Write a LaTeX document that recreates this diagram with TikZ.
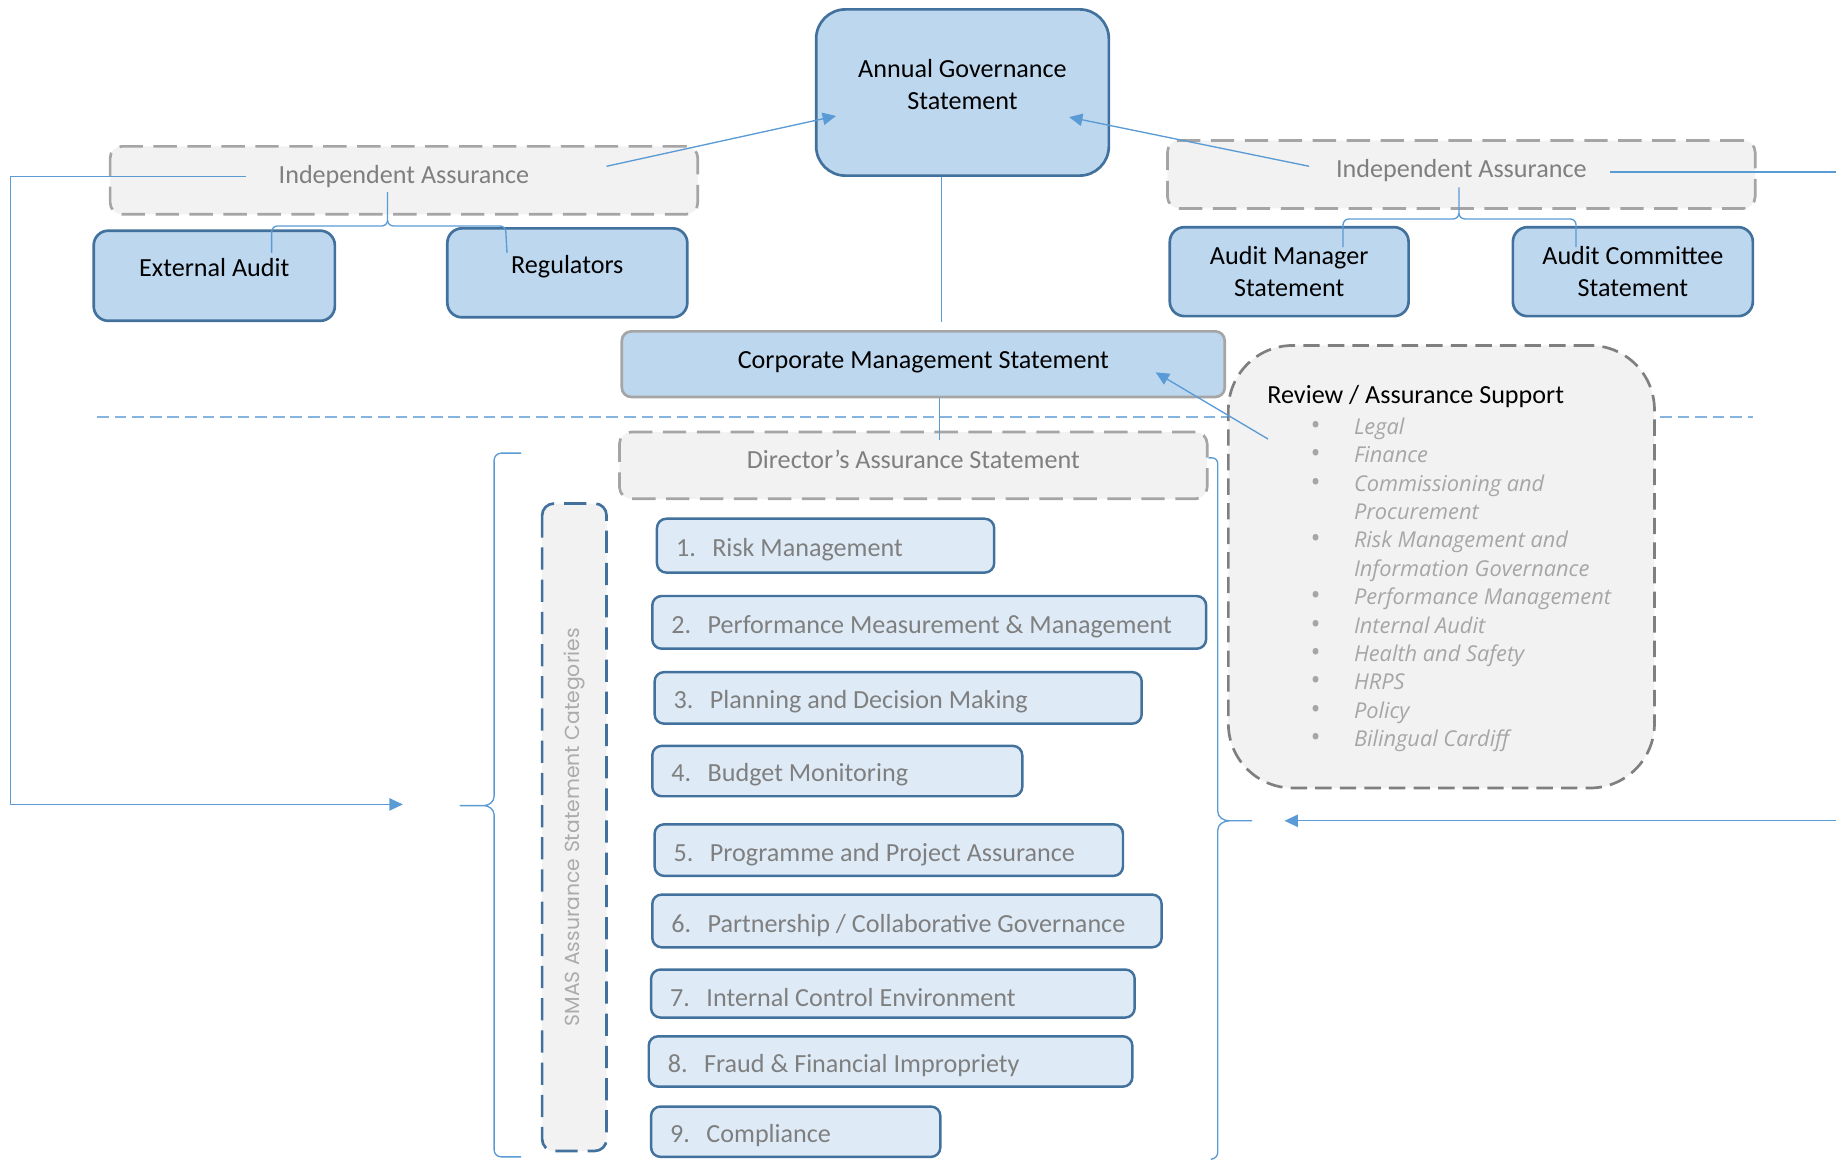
\documentclass[tikz,border=0pt]{standalone}
\usepackage{fontspec}
\setmainfont{Carlito}
\newfontfamily\smasfont{Poppins}
\newfontfamily\listfont{Open Sans}
\usetikzlibrary{arrows.meta,positioning}
\definecolor{boxblue}{HTML}{BDD7EE}
\definecolor{itemblue}{HTML}{DEEBF7}
\definecolor{edgeblue}{HTML}{41719C}
\definecolor{linkblue}{HTML}{5B9BD5}
\definecolor{palegrey}{HTML}{F2F2F2}
\definecolor{midgrey}{HTML}{A5A5A5}
\definecolor{textgrey}{HTML}{7F7F7F}
\definecolor{softgrey}{HTML}{A6A6A6}
\tikzset{
  mainbox/.style={draw=edgeblue, fill=boxblue, line width=1.3pt, rounded corners=0.25cm, inner sep=0pt, align=center},
  greybox/.style={draw=midgrey, fill=palegrey, line width=1.3pt, dash pattern=on 0.4cm off 0.18cm, rounded corners=0.2cm, inner sep=0pt, text=textgrey},
  itembox/.style={draw=edgeblue, fill=itemblue, line width=1.2pt, rounded corners=0.16cm, inner sep=0pt, anchor=west},
  itemtext/.style={inner sep=0pt, text=textgrey},
  link/.style={draw=linkblue, line width=0.65pt},
}
\newcommand\listdot{{\upshape\fontsize{13}{13}\selectfont\textbullet}}
\begin{document}
\begin{tikzpicture}[x=0.02cm, y=-0.02cm, font=\fontsize{12.7}{15.6}\selectfont, line join=round, >={Triangle[length=6.5pt,width=6pt]}]
\clip (0,0) rectangle (1568,991);
% level line
\draw[linkblue!75, line width=0.65pt, dash pattern=on 0.2cm off 0.1cm] (83,356) -- (1497,356);
% statements
\node[mainbox, rounded corners=0.5cm, minimum width=5cm, minimum height=2.84cm, text depth=8pt] (ags) at (822,79) {Annual Governance\\Statement};
\node[greybox, minimum width=10.04cm, minimum height=1.16cm, text depth=6pt] (ial) at (345,154) {Independent Assurance};
\node[greybox, minimum width=10.04cm, minimum height=1.16cm, text depth=6pt] (iar) at (1248,149) {Independent Assurance};
\node[mainbox, minimum width=4.12cm, minimum height=1.54cm, text depth=8pt] (ea) at (183,235.5) {External Audit};
\node[mainbox, minimum width=4.1cm, minimum height=1.52cm, text depth=8pt] (reg) at (484.5,233) {Regulators};
\node[mainbox, minimum width=4.08cm, minimum height=1.52cm] (ams) at (1101,232) {Audit Manager\\Statement};
\node[mainbox, minimum width=4.1cm, minimum height=1.52cm] (acs) at (1394.5,232) {Audit Committee\\Statement};
\node[mainbox, draw=midgrey, rounded corners=0.16cm, minimum width=10.3cm, minimum height=1.12cm, text depth=4pt] (cms) at (788.5,311) {Corporate Management Statement};
\node[greybox, minimum width=10.04cm, minimum height=1.14cm, text depth=6pt] (das) at (780,397.5) {Director’s Assurance Statement};
% review / assurance support
\node[greybox, draw=textgrey, dash pattern=on 0.28cm off 0.14cm, rounded corners=1.1cm, minimum width=7.28cm, minimum height=7.56cm] (rev) at (1231,484) {};
\node[anchor=west, inner sep=0pt] (revtitle) at (1082,339) {Review / Assurance Support};
\node[anchor=base west, inner sep=0pt, text=softgrey, font=\listfont\itshape\fontsize{10.6}{13.8}\selectfont] (revlist) at (1119,371) {%
  \begin{tabular}[t]{@{}p{0.74cm}@{}l@{}}
  \listdot & Legal\\
  \listdot & Finance\\
  \listdot & Commissioning and\\
   & Procurement\\
  \listdot & Risk Management and\\
   & Information Governance\\
  \listdot & Performance Management\\
  \listdot & Internal Audit\\
  \listdot & Health and Safety\\
  \listdot & HRPS\\
  \listdot & Policy\\
  \listdot & Bilingual Cardiff
  \end{tabular}};
% categories
\node[greybox, draw=edgeblue, dash pattern=on 0.38cm off 0.17cm, rotate=90, minimum width=11.06cm, minimum height=1.1cm, text=black!33, font=\smasfont\fontsize{9.9}{11}\selectfont] (smas) at (490.5,706.5) {SMAS Assurance Statement Categories};
\foreach \n/\xa/\xb/\ya/\yb/\txt in {
  1/560/848/443/489/{Risk Management},
  2/556/1029/509/554/{Performance Measurement \& Management},
  3/558/974/574/618/{Planning and Decision Making},
  4/556/872/637/680/{Budget Monitoring},
  5/558/958/704/748/{Programme and Project Assurance},
  6/556/991/764/809/{Partnership / Collaborative Governance},
  7/555/968/828/869/{Internal Control Environment},
  8/553/966/885/928/{Fraud \& Financial Impropriety},
  9/555/802/945/988/{Compliance}}{
  \node[itembox, minimum width={(\xb-\xa)*0.02cm}, minimum height={(\yb-\ya)*0.02cm}] (c\n) at (\xa,{(\ya+\yb)/2}) {};
  \node[itemtext, anchor=west, right=0.34cm of c\n.west, yshift=-0.07cm] (t\n) {\makebox[0.62cm][l]{\n.}\txt};
}
% connector ends
\coordinate (ialL) at (210,151);
\coordinate (ialR) at (518,142);
\coordinate (ialB) at (331,164);
\coordinate (iarL) at (1118,142);
\coordinate (iarR) at (1375,147);
\coordinate (iarB) at (1246,160);
\coordinate (agsL) at (714,99);
\coordinate (agsR) at (913,100);
\coordinate (revA) at (1083,375);
\coordinate (cmsA) at (987,318);
\coordinate (leftin) at (344,687);
\coordinate (rightin) at (1097,701);
\coordinate (eaT) at (232,216);
\coordinate (regT) at (433,216);
\coordinate (amsT) at (1147,211);
\coordinate (acsT) at (1346,211);
% connectors
\draw[link,->] (ialR) -- (agsL);
\draw[link,->] (iarL) -- (agsR);
\draw[link,->] (revA) -- (cmsA);
\draw[link] ([xshift=-0.36cm]ags.south) -- ++(0,124);
\draw[link] ([xshift=0.28cm]cms.south) -- ++(0,36);
\draw[link,->] (ialL) -- (9,151) |- (leftin);
\draw[link,->] (iarR) -- (1600,147) |- (rightin);
\draw[link] (ialB) -- (331,188) to[out=-90,in=0] (326,193) -- (237,193) to[out=180,in=90] (232,198) -- (eaT);
\draw[link] (331,188) to[out=-90,in=180] (336,193) -- (427,193) to[out=0,in=90] (432,198) -- (regT);
\draw[link] (iarB) -- (1246,182) to[out=-90,in=0] (1241,187) -- (1152,187) to[out=180,in=90] (1147,192) -- (amsT);
\draw[link] (1246,182) to[out=-90,in=180] (1251,187) -- (1341,187) to[out=0,in=90] (1346,192) -- (acsT);
% braces
\draw[link] (445,387) -- (428,387) to[out=180,in=90] (422,393) -- (422,680) to[out=-90,in=0] (413,688) -- (393,688)
  -- (413,688) to[out=0,in=90] (422,696) -- (422,982) to[out=-90,in=180] (428,988) -- (445,988);
\draw[link] (das.east |- 0,391) -- (1035,391) to[out=0,in=90] (1040,396) -- (1040,693) to[out=-90,in=180] (1050,701) -- (1069,701)
  -- (1050,701) to[out=180,in=90] (1040,709) -- (1040,984) to[out=-90,in=0] (1034,990);
\end{tikzpicture}
\end{document}
